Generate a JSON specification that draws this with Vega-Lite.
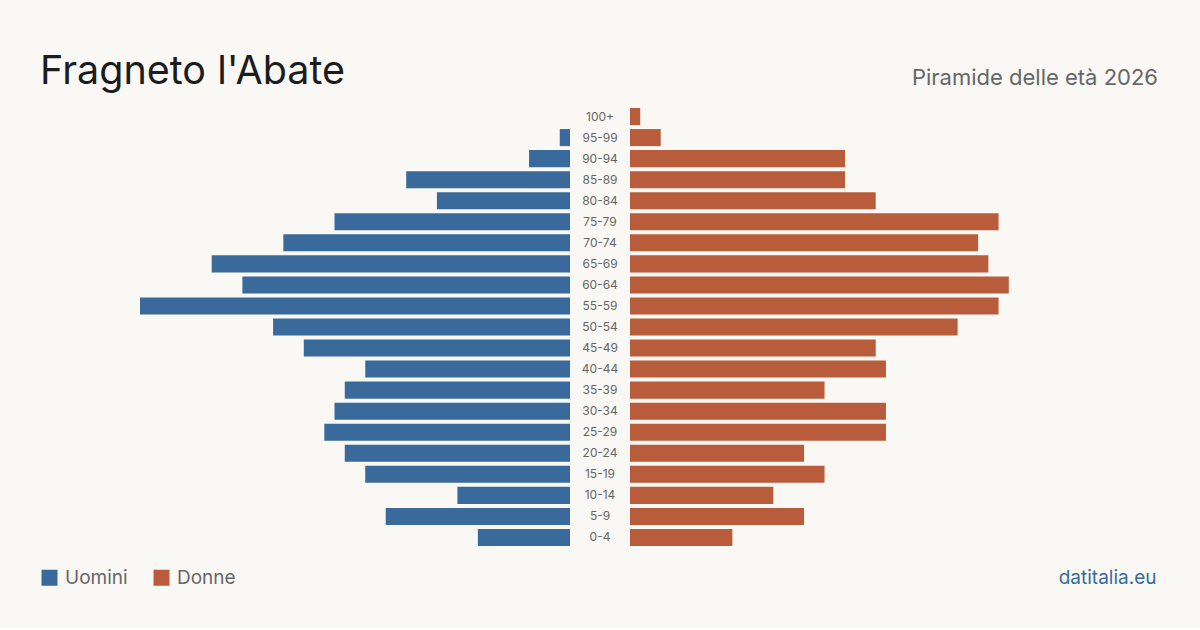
{
  "$schema": "https://vega.github.io/schema/vega-lite/v6.json",
  "background": "#f9f8f4",
  "padding": {"left": 40, "right": 42, "top": 51, "bottom": 40},
  "title": {
    "text": "Fragneto l'Abate",
    "anchor": "start",
    "fontSize": 39.5,
    "fontWeight": 400,
    "font": "Inter",
    "color": "#1c1c1c",
    "offset": -25
  },
  "data": {
    "values": [
      {"eta": "100+", "sesso": "Uomini", "n": 0},
      {"eta": "100+", "sesso": "Donne", "n": 1},
      {"eta": "95-99", "sesso": "Uomini", "n": 1},
      {"eta": "95-99", "sesso": "Donne", "n": 3},
      {"eta": "90-94", "sesso": "Uomini", "n": 4},
      {"eta": "90-94", "sesso": "Donne", "n": 21},
      {"eta": "85-89", "sesso": "Uomini", "n": 16},
      {"eta": "85-89", "sesso": "Donne", "n": 21},
      {"eta": "80-84", "sesso": "Uomini", "n": 13},
      {"eta": "80-84", "sesso": "Donne", "n": 24},
      {"eta": "75-79", "sesso": "Uomini", "n": 23},
      {"eta": "75-79", "sesso": "Donne", "n": 36},
      {"eta": "70-74", "sesso": "Uomini", "n": 28},
      {"eta": "70-74", "sesso": "Donne", "n": 34},
      {"eta": "65-69", "sesso": "Uomini", "n": 35},
      {"eta": "65-69", "sesso": "Donne", "n": 35},
      {"eta": "60-64", "sesso": "Uomini", "n": 32},
      {"eta": "60-64", "sesso": "Donne", "n": 37},
      {"eta": "55-59", "sesso": "Uomini", "n": 42},
      {"eta": "55-59", "sesso": "Donne", "n": 36},
      {"eta": "50-54", "sesso": "Uomini", "n": 29},
      {"eta": "50-54", "sesso": "Donne", "n": 32},
      {"eta": "45-49", "sesso": "Uomini", "n": 26},
      {"eta": "45-49", "sesso": "Donne", "n": 24},
      {"eta": "40-44", "sesso": "Uomini", "n": 20},
      {"eta": "40-44", "sesso": "Donne", "n": 25},
      {"eta": "35-39", "sesso": "Uomini", "n": 22},
      {"eta": "35-39", "sesso": "Donne", "n": 19},
      {"eta": "30-34", "sesso": "Uomini", "n": 23},
      {"eta": "30-34", "sesso": "Donne", "n": 25},
      {"eta": "25-29", "sesso": "Uomini", "n": 24},
      {"eta": "25-29", "sesso": "Donne", "n": 25},
      {"eta": "20-24", "sesso": "Uomini", "n": 22},
      {"eta": "20-24", "sesso": "Donne", "n": 17},
      {"eta": "15-19", "sesso": "Uomini", "n": 20},
      {"eta": "15-19", "sesso": "Donne", "n": 19},
      {"eta": "10-14", "sesso": "Uomini", "n": 11},
      {"eta": "10-14", "sesso": "Donne", "n": 14},
      {"eta": "5-9", "sesso": "Uomini", "n": 18},
      {"eta": "5-9", "sesso": "Donne", "n": 17},
      {"eta": "0-4", "sesso": "Uomini", "n": 9},
      {"eta": "0-4", "sesso": "Donne", "n": 10}
    ]
  },
  "spacing": 0,
  "hconcat": [
    {
      "width": 430,
      "height": 442,
      "transform": [{"filter": "datum.sesso === 'Uomini'"}],
      "mark": {"type": "bar"},
      "encoding": {
        "y": {
          "field": "eta",
          "type": "nominal",
          "sort": ["100+", "95-99", "90-94", "85-89", "80-84", "75-79", "70-74", "65-69", "60-64", "55-59", "50-54", "45-49", "40-44", "35-39", "30-34", "25-29", "20-24", "15-19", "10-14", "5-9", "0-4"],
          "scale": {"paddingInner": 0.19, "paddingOuter": 0.095},
          "axis": null
        },
        "x": {
          "field": "n",
          "type": "quantitative",
          "scale": {"domain": [0, 42], "reverse": true, "nice": false},
          "axis": null
        },
        "color": {
          "field": "sesso",
          "type": "nominal",
          "scale": {"domain": ["Uomini", "Donne"], "range": ["#3a6a9c", "#b95c3c"]},
          "legend": {
            "orient": "none",
            "legendX": -100,
            "legendY": 462,
            "padding": 0,
            "direction": "horizontal",
            "title": null,
            "symbolType": "square",
            "symbolSize": 256,
            "symbolStrokeWidth": 0,
            "labelFontSize": 19,
            "labelFont": "Inter",
            "labelColor": "#666666",
            "labelOffset": 6,
            "columnPadding": 24
          }
        }
      }
    },
    {
      "width": 60,
      "height": 442,
      "transform": [{"filter": "datum.sesso === 'Donne'"}],
      "mark": {"type": "text", "fontSize": 12, "font": "Inter", "color": "#666666", "align": "center", "baseline": "middle"},
      "encoding": {
        "y": {
          "field": "eta",
          "type": "nominal",
          "sort": ["100+", "95-99", "90-94", "85-89", "80-84", "75-79", "70-74", "65-69", "60-64", "55-59", "50-54", "45-49", "40-44", "35-39", "30-34", "25-29", "20-24", "15-19", "10-14", "5-9", "0-4"],
          "scale": {"paddingInner": 0.19, "paddingOuter": 0.095},
          "axis": null
        },
        "text": {"field": "eta"}
      }
    },
    {
      "width": 430,
      "height": 442,
      "title": {
        "text": "Piramide delle età 2026",
        "anchor": "end",
        "frame": "group",
        "dx": 98,
        "fontSize": 22,
        "fontWeight": 400,
        "font": "Inter",
        "color": "#666666",
        "offset": 16
      },
      "transform": [{"filter": "datum.sesso === 'Donne'"}],
      "mark": {"type": "bar"},
      "encoding": {
        "y": {
          "field": "eta",
          "type": "nominal",
          "sort": ["100+", "95-99", "90-94", "85-89", "80-84", "75-79", "70-74", "65-69", "60-64", "55-59", "50-54", "45-49", "40-44", "35-39", "30-34", "25-29", "20-24", "15-19", "10-14", "5-9", "0-4"],
          "scale": {"paddingInner": 0.19, "paddingOuter": 0.095},
          "axis": null
        },
        "x": {
          "field": "n",
          "type": "quantitative",
          "scale": {"domain": [0, 42], "nice": false},
          "axis": {
            "orient": "bottom",
            "domain": false,
            "ticks": false,
            "labels": false,
            "grid": false,
            "title": "datitalia.eu",
            "titleColor": "#3a6a9c",
            "titleFontSize": 19,
            "titleFontWeight": 400,
            "titleFont": "Inter",
            "titleAnchor": "end",
            "titleAlign": "right",
            "titleBaseline": "alphabetic",
            "titleX": 526,
            "titleY": 35
          }
        },
        "color": {"field": "sesso", "type": "nominal"}
      }
    }
  ],
  "resolve": {"scale": {"y": "shared"}},
  "config": {
    "view": {"stroke": null},
    "font": "Inter"
  }
}
